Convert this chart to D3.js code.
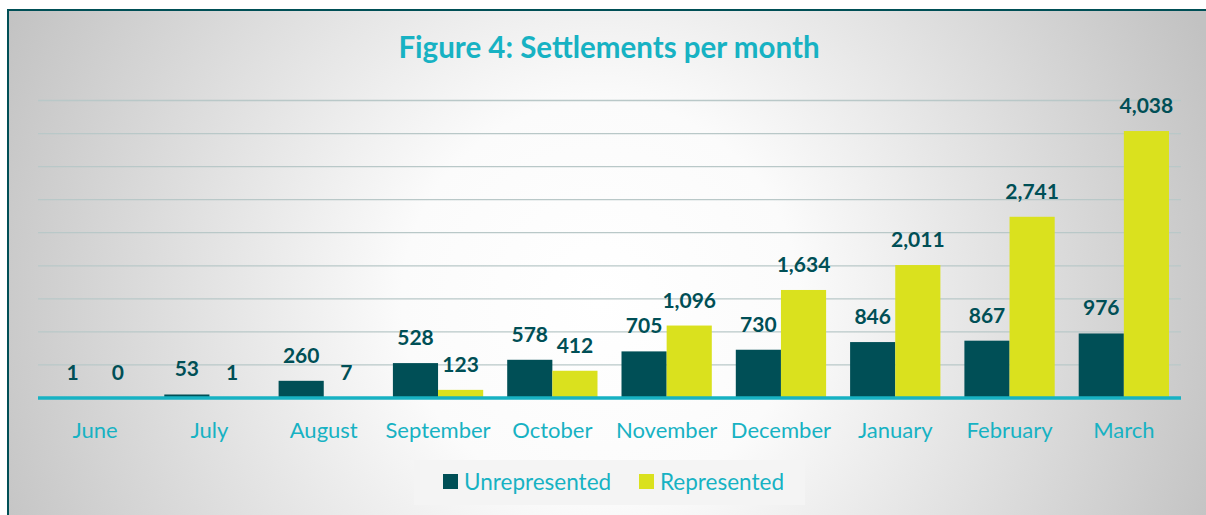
<!DOCTYPE html>
<html>
<head>
<meta charset="utf-8">
<script src="https://cdn.jsdelivr.net/npm/d3@7"></script>
<style>
  body { margin: 0; background: #fff; }
  svg { display: block; }
</style>
</head>
<body>
<svg id="chart"></svg>
<script>
const months = ["June", "July", "August", "September", "October", "November", "December", "January", "February", "March"];
const unrepresented = [1, 53, 260, 528, 578, 705, 730, 846, 867, 976];
const represented = [0, 1, 7, 123, 412, 1096, 1634, 2011, 2741, 4038];
const seriesNames = ["Unrepresented", "Represented"];
const gridTicks = [500, 1000, 1500, 2000, 2500, 3000, 3500, 4000, 4500];

const W = 1206, H = 515;
const dark = "#004f56", yellow = "#dae11e", teal = "#17b2c3";
const font = "Lato, 'Open Sans', sans-serif";

let svg = d3.select("#chart").attr("width", W).attr("height", H);

// background panel
let grad = svg.append("defs").append("radialGradient")
    .attr("id", "bg").attr("gradientUnits", "userSpaceOnUse")
    .attr("cx", 600).attr("cy", 300).attr("r", 660);
grad.append("stop").attr("offset", "0%").attr("stop-color", "#ffffff");
grad.append("stop").attr("offset", "30%").attr("stop-color", "#fbfbfb");
grad.append("stop").attr("offset", "100%").attr("stop-color", "#c2c2c2");

svg.append("rect").attr("x", 8).attr("y", 10).attr("width", W + 20).attr("height", H + 20)
    .style("fill", "url(#bg)").style("stroke", dark).style("stroke-width", 2);

const plotLeft = 38, plotRight = 1181, base = 398, plotTop = 100.5;

let x = d3.scaleBand().domain(months).range([plotLeft, plotRight]).paddingInner(0.21).paddingOuter(0.105);
let x1 = d3.scaleBand().domain(seriesNames).range([0, x.bandwidth()]);
let y = d3.scaleLinear().domain([0, 4500]).range([base, plotTop]);

// gridlines
svg.append("g").selectAll("line").data(gridTicks).join("line")
    .attr("x1", plotLeft).attr("x2", plotRight)
    .attr("y1", d => y(d)).attr("y2", d => y(d))
    .style("stroke", "#b9c8c8").style("stroke-width", 1.3);

// bars
const rows = months.map((m, i) => ({ month: m, vals: [unrepresented[i], represented[i]] }));
let groups = svg.append("g").selectAll("g").data(rows).join("g")
    .attr("transform", d => `translate(${x(d.month)},0)`);

groups.selectAll("rect").data(d => d.vals.map((v, j) => ({ key: seriesNames[j], v: v }))).join("rect")
    .attr("x", d => x1(d.key))
    .attr("width", x1.bandwidth())
    .attr("y", d => y(d.v))
    .attr("height", d => base - y(d.v))
    .style("fill", (d, j) => j == 0 ? dark : yellow);

groups.selectAll("text").data(d => d.vals.map((v, j) => ({ key: seriesNames[j], v: v }))).join("text")
    .attr("x", d => x1(d.key) + x1.bandwidth() / 2)
    .attr("y", d => y(d.v) - 18)
    .attr("text-anchor", "middle")
    .style("font-family", font).style("font-weight", "bold").style("font-size", "21px")
    .style("fill", dark)
    .text(d => d3.format(",")(d.v));

// baseline
svg.append("line").attr("x1", plotLeft).attr("x2", plotRight).attr("y1", base).attr("y2", base)
    .style("stroke", teal).style("stroke-width", 3.5);

// category labels
let xAxis = svg.append("g").attr("transform", `translate(0,${base})`)
    .call(d3.axisBottom(x).tickSize(0).tickPadding(0));
xAxis.select(".domain").remove();
xAxis.selectAll("text").attr("dy", 0).attr("y", 40)
    .style("font-family", font).style("font-size", "22px").style("fill", teal);

// title
svg.append("text").attr("x", 609).attr("y", 58).attr("text-anchor", "middle")
    .style("font-family", font).style("font-weight", "bold").style("font-size", "29.5px")
    .style("fill", teal).text("Figure 4: Settlements per month");

// legend
svg.append("rect").attr("x", 414).attr("y", 460).attr("width", 391).attr("height", 45)
    .style("fill", "#f4f4f4");
const legendX = [443, 639];
let leg = svg.append("g").selectAll("g").data(seriesNames).join("g")
    .attr("transform", (d, i) => `translate(${legendX[i]},474)`);
leg.append("rect").attr("width", 15).attr("height", 15)
    .style("fill", (d, i) => i == 0 ? dark : yellow);
leg.append("text").attr("x", 21).attr("y", 15.5)
    .style("font-family", font).style("font-size", "22.5px").style("fill", teal)
    .text(d => d);
</script>
</body>
</html>
